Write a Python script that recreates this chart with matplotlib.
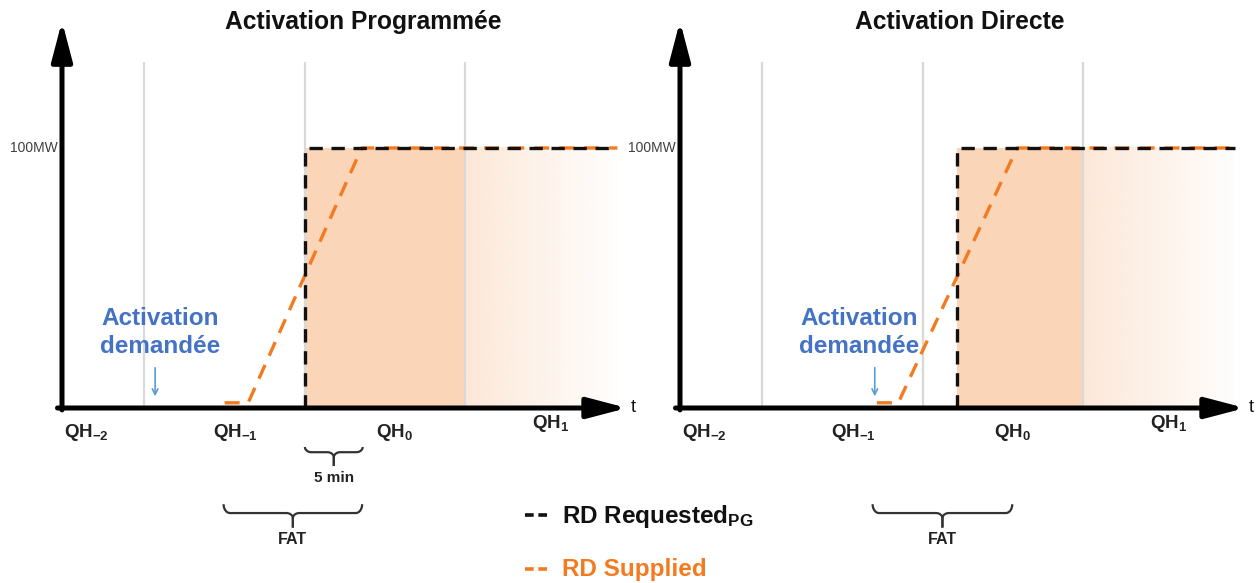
import matplotlib
matplotlib.use('Agg')
import matplotlib.pyplot as plt
import numpy as np
from matplotlib.lines import Line2D

plt.rcParams['font.family'] = ['Liberation Sans', 'DejaVu Sans']
plt.rcParams['mathtext.fontset'] = 'custom'
plt.rcParams['mathtext.rm'] = 'Liberation Sans'
plt.rcParams['mathtext.bf'] = 'Liberation Sans:bold'
plt.rcParams['mathtext.it'] = 'Liberation Sans:italic'

# --- Données (temps en minutes depuis le début de QH0, puissance en MW) ---
limites_qh = [-15, 0, 15]
qh_noms = [r'QH$_{\mathbf{-2}}$', r'QH$_{\mathbf{-1}}$', r'QH$_{\mathbf{0}}$', r'QH$_{\mathbf{1}}$']
qh_centres = [-20.4, -6.5, 8.4, 23.0]
puissance_max = 100
t_fin = 29.2

# Activation programmée
prog_req_t = [0, 0, t_fin]
prog_req_mw = [0, 100, 100]
prog_sup_t = [-7.5, -5.3, 5.3, t_fin]
prog_sup_mw = [2, 2, 100, 100]
prog_demande = -14.0
prog_fat = (-7.6, 5.35)
prog_5min = (0, 5.4)

# Activation directe
dir_req_t = [3.2, 3.2, t_fin]
dir_req_mw = [0, 100, 100]
dir_sup_t = [-4.3, -2.3, 8.8, t_fin]
dir_sup_mw = [2, 2, 100, 100]
dir_demande = -4.5
dir_fat = (-4.7, 8.35)

NOIR = '#111111'
ORANGE = '#F47A20'
PECHE = '#FBD5B8'
BLEU = '#4472C4'
BLEU_FLECHE = '#5B9BD5'
GRIS = '#D9D9D9'

W, H = 1259, 583
T_MIN, T_MAX = -22.7, 30.1
MW_MAX = 147.3


def accolade(ax, x0, x1, y_haut, y_bas, y_tige):
    """Dessine une accolade horizontale (pointe vers le bas)."""
    xm = (x0 + x1) / 2
    rx, ry, ry2 = 0.6, y_haut - y_bas, 2.0
    th = np.linspace(np.pi, 1.5 * np.pi, 12)
    xs = list(x0 + rx + rx * np.cos(th))
    ys = list(y_haut + ry * np.sin(th))
    th2 = np.linspace(0.5 * np.pi, 0, 12)
    xs += list(xm - rx + rx * np.cos(th2))
    ys += list(y_bas - ry2 + ry2 * np.sin(th2))
    xs += [xm]
    ys += [y_tige]
    xs = np.array(xs)
    ys = np.array(ys)
    for xx in (xs, 2 * xm - xs):
        ax.plot(xx, ys, color='#333333', lw=1.6, clip_on=False, solid_capstyle='butt')


def tracer_panneau(ax, req_t, req_mw, sup_t, sup_mw, t_demande, x_texte, fat, cinq_min=None):
    # zone fournie
    debut = req_t[0]
    ax.fill_between([debut, limites_qh[2]], 0, puissance_max, color=PECHE, lw=0, zorder=1)
    grad = np.ones((2, 256, 4))
    grad[..., :3] = matplotlib.colors.to_rgb(PECHE)
    grad[..., 3] = np.linspace(0.55, 0.03, 256)
    ax.imshow(grad, extent=[limites_qh[2], t_fin, 0, puissance_max], aspect='auto', zorder=1,
              interpolation='bilinear')

    # limites des quarts d'heure
    ax.vlines(limites_qh, 0, 133, color=GRIS, lw=1.6, zorder=2)

    # courbes
    ax.plot(sup_t, sup_mw, color=ORANGE, lw=2.4, ls=(0, (4.5, 3)), zorder=4)
    ax.plot(req_t, req_mw, color=NOIR, lw=2.4, ls=(0, (4, 2.6)), zorder=5)

    ax.set_xlim(T_MIN, T_MAX)
    ax.set_ylim(0, MW_MAX)
    ax.axis('off')

    # axes fléchés
    style = matplotlib.patches.ArrowStyle('-|>', head_length=1.6, head_width=0.42)
    ax.annotate('', xy=(0, 1.01), xytext=(0, -0.005), xycoords='axes fraction',
                arrowprops=dict(arrowstyle=style, lw=3.6, color='black', mutation_scale=15,
                                shrinkA=0, shrinkB=0), zorder=6)
    ax.annotate('', xy=(1, 0), xytext=(-0.008, 0), xycoords='axes fraction',
                arrowprops=dict(arrowstyle=style, lw=3.6, color='black', mutation_scale=15,
                                shrinkA=0, shrinkB=0), zorder=6)
    ax.annotate('t', xy=(1, 0), xycoords='axes fraction', xytext=(3, 0), textcoords='offset points',
                ha='left', va='center', fontsize=13, color=NOIR)
    ax.annotate('100MW', xy=(T_MIN, puissance_max), xytext=(-3, 0), textcoords='offset points',
                ha='right', va='center', fontsize=10, color='#404040',
                family=['Liberation Sans Narrow', 'Liberation Sans'])

    # étiquettes des quarts d'heure
    for nom, xc in zip(qh_noms, qh_centres):
        yb = -7.7 if nom.endswith('{1}}$') else -11
        ax.text(xc, yb, nom, ha='center', va='baseline', fontsize=13.5, fontweight='bold',
                color='#222222', clip_on=False)

    # activation demandée
    ax.text(x_texte, 31.9, 'Activation', ha='center', va='baseline', fontsize=17.5,
            fontweight='bold', color=BLEU)
    ax.text(x_texte, 21.2, 'demandée', ha='center', va='baseline', fontsize=17.5,
            fontweight='bold', color=BLEU)
    ax.annotate('', xy=(t_demande, 4.5), xytext=(t_demande, 15.5),
                arrowprops=dict(arrowstyle='->', lw=1.2, color=BLEU_FLECHE, shrinkA=0, shrinkB=0,
                                mutation_scale=10))

    # accolades
    accolade(ax, fat[0], fat[1], -37, -40.4, -46)
    ax.text((fat[0] + fat[1]) / 2, -52.3, 'FAT', ha='center', va='baseline', fontsize=11.5,
            fontweight='bold', color='#222222', clip_on=False)
    if cinq_min is not None:
        accolade(ax, cinq_min[0], cinq_min[1], -15, -17, -22.3)
        ax.text((cinq_min[0] + cinq_min[1]) / 2, -28.5, '5 min', ha='center', va='baseline',
                fontsize=11, fontweight='bold', color='#222222', clip_on=False)


fig = plt.figure(figsize=(W / 100, H / 100), dpi=100)
bas = (H - 408) / H
haut = (408 - 25) / H
larg = 565 / W

ax1 = fig.add_axes([62 / W, bas, larg, haut])
ax2 = fig.add_axes([680 / W, bas, larg, haut])

tracer_panneau(ax1, prog_req_t, prog_req_mw, prog_sup_t, prog_sup_mw,
               prog_demande, -13.55, prog_fat, prog_5min)
tracer_panneau(ax2, dir_req_t, dir_req_mw, dir_sup_t, dir_sup_mw,
               dir_demande, -6.0, dir_fat)

fig.text(363 / W, 1 - 22 / H, 'Activation Programmée', ha='center', va='center', fontsize=17.7,
         fontweight='bold', color=NOIR)
fig.text(960 / W, 1 - 22 / H, 'Activation Directe', ha='center', va='center', fontsize=17.7,
         fontweight='bold', color=NOIR)

# légende
fig.add_artist(Line2D([525 / W, 550 / W], [1 - 515 / H] * 2, transform=fig.transFigure,
                      color=NOIR, lw=2.6, ls=(0, (2.4, 1.3))))
fig.text(562 / W, 1 - 523 / H, r'RD Requested$_{\mathbf{PG}}$', ha='left', va='baseline',
         fontsize=17.5, fontweight='bold', color=NOIR)
fig.add_artist(Line2D([525 / W, 550 / W], [1 - 569 / H] * 2, transform=fig.transFigure,
                      color=ORANGE, lw=2.6, ls=(0, (2.4, 1.3))))
fig.text(562 / W, 1 - 576 / H, 'RD Supplied', ha='left', va='baseline',
         fontsize=17.5, fontweight='bold', color=ORANGE)

fig.savefig('out.png', dpi=100)
